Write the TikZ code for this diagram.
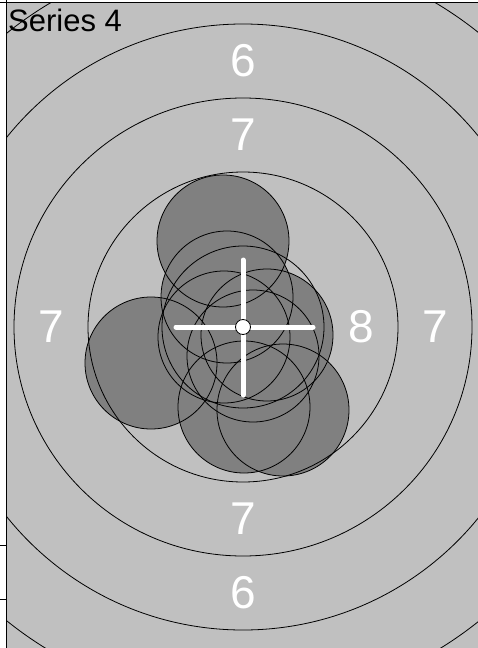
\documentclass[tikz,border=0pt]{standalone}
\usepackage{fontspec}
\setmainfont{Liberation Sans}
\definecolor{targetgray}{HTML}{C0C0C0}
\definecolor{shotgray}{HTML}{808080}
\tikzset{
  ring/.style={draw=black,line width=0.8pt},
  zone/.style={text=white,inner sep=0pt,font=\fontsize{46}{46}\selectfont},
}

\begin{document}
\begin{tikzpicture}[x=1pt,y=-1pt]
\useasboundingbox (0,0) rectangle (478,648);
\fill[white] (0,0) rectangle (478,648);
\begin{scope}
\clip (7,3) rectangle (478,648);
\fill[targetgray] (7,3) rectangle (478,648);
\coordinate (c) at (243,327);
% zone numbers
\foreach \a/\r/\n in {0/118/8,0/192/7,90/192/7,180/192/7,270/192/7,90/266/6,270/266/6,270/340/5}
  \path (c) ++(\a:\r) node[zone] {\n};
% hits
\def\hits{(223,241),(151,363),(283,410),(244,407),(253,356),(267,335),(224,337),(227,297)}
\foreach \p in \hits
  \fill[shotgray] \p circle (66);
% rings
\foreach \r in {81,155,229,303,377}
  \draw[ring] (c) circle (\r);
\foreach \p in \hits
  \draw[ring] \p circle (66);
% centre cross
\draw[white,line width=5pt,line cap=round] (176,327) -- (313,327);
\draw[white,line width=5pt,line cap=round] (243,260) -- (243,395);
\draw[ring,fill=white] (c) circle (7.5);
\node[anchor=base west,inner sep=0pt,font=\fontsize{31}{31}\selectfont] (title) at (8,31) {Series 4};
\end{scope}
% frame
\draw[line width=0.8pt] (0,2.5) -- (478,2.5);
\draw[line width=0.8pt] (6.5,0) -- (6.5,648);
\draw[line width=0.8pt] (0,545) -- (6.5,545);
\draw[line width=0.8pt] (0,599) -- (6.5,599);
\end{tikzpicture}
\end{document}
